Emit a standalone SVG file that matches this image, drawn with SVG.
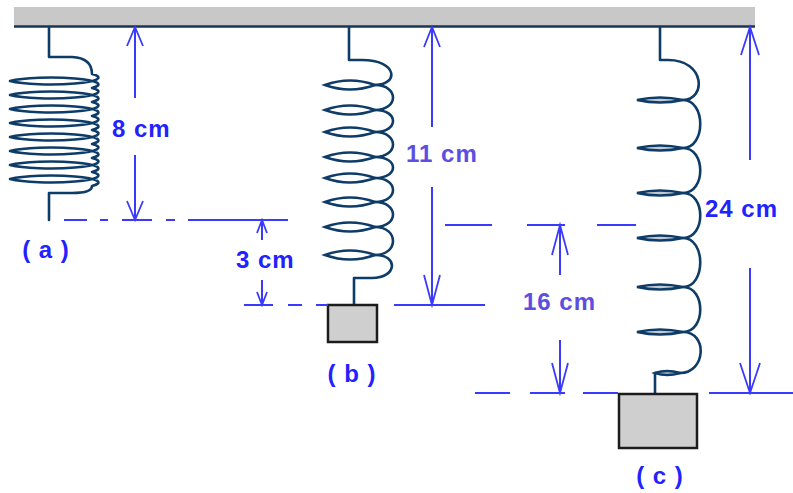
<svg xmlns="http://www.w3.org/2000/svg" width="793" height="493" viewBox="0 0 793 493">
<defs>
<style>
.wire{fill:none;stroke:#0e3c68;stroke-width:2.6;stroke-linejoin:round;stroke-linecap:round}
.lensw{fill:#ffffff;stroke:#0e3c68;stroke-width:2.6}
.lensg{fill:#c4c8d0;stroke:#0e3c68;stroke-width:2.4}
.dim{fill:none;stroke:#3a3aff;stroke-width:2}
.arr{fill:none;stroke:#3a3aff;stroke-width:1.8}
.t{font-family:"Liberation Sans",Arial,sans-serif;font-weight:bold;font-size:24px;letter-spacing:1px}
.blue{fill:#2222ff}
.vio{fill:#5c4ee0}
.block{fill:#cfcfcf;stroke:#1c1c1c;stroke-width:2.5}
</style>
</defs>
<rect width="793" height="493" fill="#ffffff"/>
<g id="ceiling">
<rect x="14" y="7" width="741" height="19" fill="#c8c8c8"/>
<line x1="14" y1="26.5" x2="755" y2="26.5" stroke="#1a3555" stroke-width="2.5"/>
</g>
<g id="spring-a">
<path class="wire" d="M49 27 V57 H72 Q92 58 92 74 A41 6 0 0 1 10 81 A41 6 0 0 1 92 88 A41 6 0 0 1 10 95 A41 6 0 0 1 92 102 A41 6 0 0 1 10 109 A41 6 0 0 1 92 116 A41 6 0 0 1 10 123 A41 6 0 0 1 92 130 A41 6 0 0 1 10 137 A41 6 0 0 1 92 144 A41 6 0 0 1 10 151 A41 6 0 0 1 92 158 A41 6 0 0 1 10 165 A41 6 0 0 1 92 172 A41 6 0 0 1 10 179 A41 6 0 0 1 92 186 Q92 193 72 193 H49 V220"/>
<text class="t blue" x="46" y="258" text-anchor="middle">( a )</text>
</g>
<g id="spring-b">
<path class="wire" d="M349 27 V60 H362 C398 60 399 85 375 85 C399 85 399 110 375 110 C399 110 399 132 375 132 C399 132 399 157 375 157 C399 157 399 178 375 178 C399 178 399 202 375 202 C399 202 399 227 375 227 C399 227 399 255 375 255 C399 255 397 278 372 278 H354 V305"/>
<path class="lensw" d="M375 85 Q350 76 325 85 Q350 94 375 85 Z"/>
<path class="lensw" d="M375 110 Q350 101 325 110 Q350 119 375 110 Z"/>
<path class="lensw" d="M375 132 Q350 123 325 132 Q350 141 375 132 Z"/>
<path class="lensw" d="M375 157 Q350 148 325 157 Q350 166 375 157 Z"/>
<path class="lensw" d="M375 178 Q350 169 325 178 Q350 187 375 178 Z"/>
<path class="lensw" d="M375 202 Q350 193 325 202 Q350 211 375 202 Z"/>
<path class="lensw" d="M375 227 Q350 218 325 227 Q350 236 375 227 Z"/>
<path class="lensw" d="M375 255 Q350 246 325 255 Q350 264 375 255 Z"/>
<rect class="block" x="328" y="305" width="49" height="37"/>
<text class="t blue" x="352" y="382" text-anchor="middle">( b )</text>
</g>
<g id="spring-c">
<path class="wire" d="M660 27 V60 H668 C706 60 706 100 683 100 C706 100 706 148 683 148 C706 148 706 193 683 193 C706 193 706 238 683 238 C706 238 706 287 683 287 C706 287 706 332 683 332 C708 332 706 373 680 373 H655 V394"/>
<path class="lensg" d="M683 100 Q660 95 637 100 Q660 105 683 100 Z"/>
<path class="lensg" d="M683 148 Q660 143 637 148 Q660 153 683 148 Z"/>
<path class="lensg" d="M683 193 Q660 188 637 193 Q660 198 683 193 Z"/>
<path class="lensg" d="M683 238 Q660 233 637 238 Q660 243 683 238 Z"/>
<path class="lensg" d="M683 287 Q660 282 637 287 Q660 292 683 287 Z"/>
<path class="lensg" d="M683 332 Q660 327 637 332 Q660 337 683 332 Z"/>
<path class="lensg" d="M680 373 Q667 369 655 373 Q667 377 680 373 Z"/>
<rect class="block" x="619" y="394" width="78" height="54"/>
<text class="t blue" x="660" y="484" text-anchor="middle">( c )</text>
</g>
<g id="dimensions">
<path class="dim" d="M64 220 H87 M100 220 H108 M122 220 H152 M166 220 H175 M188 220 H288"/>
<path class="dim" d="M244 305 H273 M288 305 H302 M316 305 H328 M394 305 H485"/>
<path class="dim" d="M445 225 H492 M527 225 H565 M597 225 H636"/>
<path class="dim" d="M475 393 H510 M530 393 H565 M583 393 H618 M709 393 H793"/>
<path class="dim" d="M135 27 V98 M135 155 V220"/>
<polyline class="arr" points="127,46 135,27 143,46"/>
<polyline class="arr" points="127,201 135,220 143,201"/>
<path class="dim" d="M262 220 V240 M262 280 V305"/>
<polyline class="arr" points="257,233 262,220 267,233"/>
<polyline class="arr" points="257,292 262,305 267,292"/>
<path class="dim" d="M432 27 V127 M432 187 V305"/>
<polyline class="arr" points="424,47 432,27 440,47"/>
<polyline class="arr" points="424,275 432,305 440,275"/>
<path class="dim" d="M560 225 V275 M560 340 V393"/>
<polyline class="arr" points="552,255 560,225 568,255"/>
<polyline class="arr" points="552,363 560,393 568,363"/>
<path class="dim" d="M750 27 V160 M750 268 V393"/>
<polyline class="arr" points="741,55 750,27 759,55"/>
<polyline class="arr" points="740,363 750,393 760,363"/>
<text class="t blue" x="112" y="137">8 cm</text>
<text class="t blue" x="236" y="268">3 cm</text>
<text class="t vio" x="406" y="162">11 cm</text>
<text class="t vio" x="523" y="310">16 cm</text>
<text class="t blue" x="705" y="217">24 cm</text>
</g>
</svg>
